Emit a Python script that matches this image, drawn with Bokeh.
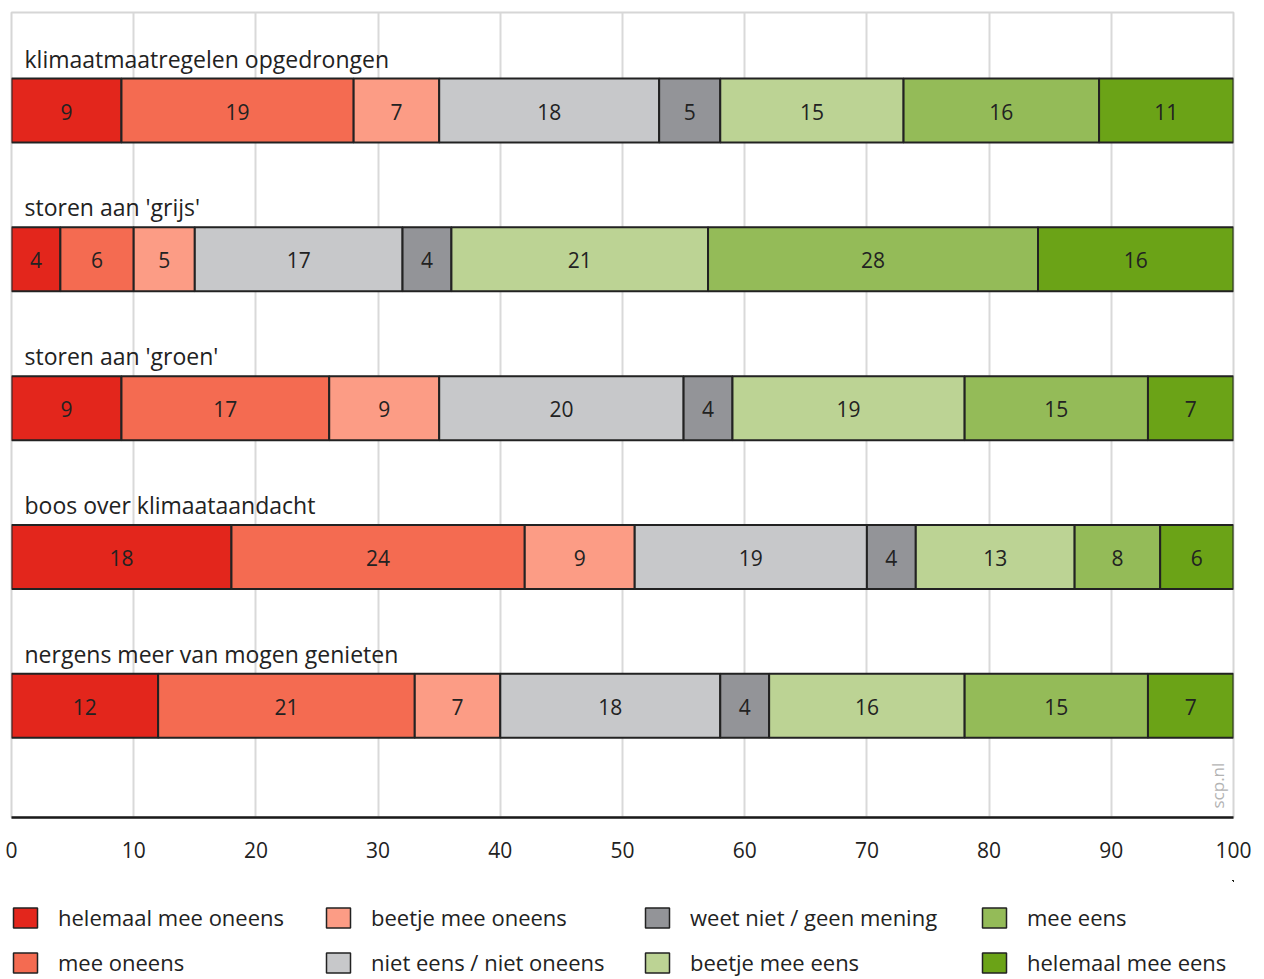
import numpy as np
from math import pi
from bokeh.plotting import figure
from bokeh.layouts import column
from bokeh.models import ColumnDataSource, Range1d, FixedTicker, Legend, LegendItem, Label
from bokeh.core.properties import value
from bokeh.embed import file_html
from bokeh.resources import INLINE

# ---------------- data ----------------
statements = [
    "klimaatmaatregelen opgedrongen",
    "storen aan 'grijs'",
    "storen aan 'groen'",
    "boos over klimaataandacht",
    "nergens meer van mogen genieten",
]
answers = [
    "helemaal mee oneens",
    "mee oneens",
    "beetje mee oneens",
    "niet eens / niet oneens",
    "weet niet / geen mening",
    "beetje mee eens",
    "mee eens",
    "helemaal mee eens",
]
colors = ["#e3261c", "#f46b51", "#fc9c85", "#c7c8ca", "#939498", "#bcd394", "#94bb58", "#6ba317"]

# bar shares (percent) as drawn, one list per answer, one value per statement
helemaal_mee_oneens = [9, 4, 9, 18, 12]
mee_oneens = [19, 6, 17, 24, 21]
beetje_mee_oneens = [7, 5, 9, 9, 7]
niet_eens_niet_oneens = [18, 17, 20, 19, 18]
weet_niet = [5, 4, 4, 4, 4]
beetje_mee_eens = [15, 21, 19, 13, 16]
mee_eens = [16, 27, 15, 7, 15]
helemaal_mee_eens = [11, 16, 7, 6, 7]

# printed (rounded) labels where they differ from the drawn share
mee_eens_label = [16, 28, 15, 8, 15]

x_ticks = [0, 10, 20, 30, 40, 50, 60, 70, 80, 90, 100]

series = [helemaal_mee_oneens, mee_oneens, beetje_mee_oneens, niet_eens_niet_oneens,
          weet_niet, beetje_mee_eens, mee_eens, helemaal_mee_eens]
labels = [helemaal_mee_oneens, mee_oneens, beetje_mee_oneens, niet_eens_niet_oneens,
          weet_niet, beetje_mee_eens, mee_eens_label, helemaal_mee_eens]

# ---------------- figure ----------------
FONT = "Open Sans"
TXT = "#222222"
BAR_LINE = "#222222"

rows = np.arange(len(statements))
y_top = -0.659
y_bottom = 4.751

p = figure(width=1264, height=880, output_backend="svg", toolbar_location=None,
           x_range=Range1d(0, 100), y_range=Range1d(y_bottom, y_top),
           y_axis_location=None,
           min_border_left=11, min_border_right=31, min_border_top=12, min_border_bottom=63)
p.background_fill_color = "white"
p.border_fill_color = "white"
p.outline_line_color = "#d6d6d6"
p.outline_line_width = 2

p.xgrid.ticker = FixedTicker(ticks=x_ticks)
p.xgrid.grid_line_color = "#d9d9d9"
p.xgrid.grid_line_width = 2
p.ygrid.visible = False

ax = p.xaxis[0]
ax.ticker = FixedTicker(ticks=x_ticks)
ax.axis_line_color = "#1a1a1a"
ax.axis_line_width = 2.5
ax.major_tick_line_color = None
ax.minor_tick_line_color = None
ax.major_label_standoff = 18
ax.major_label_text_font = FONT
ax.major_label_text_font_size = "21px"
ax.major_label_text_color = TXT

widths = np.array(series, dtype=float)
rights = np.cumsum(widths, axis=0)
lefts = rights - widths

sources = []
tx, ty, tt = [], [], []
for j, ans in enumerate(answers):
    src = ColumnDataSource(dict(y=rows, left=lefts[j], right=rights[j]))
    sources.append(src)
    p.hbar(y="y", left="left", right="right", height=0.43, source=src,
           fill_color=colors[j], line_color=BAR_LINE, line_width=2)
    tx.extend(list((lefts[j] + rights[j]) / 2))
    ty.extend(list(rows))
    tt.extend([str(v) for v in labels[j]])

p.text(x="x", y="y", text="t", source=ColumnDataSource(dict(x=tx, y=ty, t=tt)),
       text_align="center", text_baseline="middle", text_font=value(FONT),
       text_font_size="21px", text_color=TXT, y_offset=1)

cat_src = ColumnDataSource(dict(x=lefts[0], y=rows, t=statements))
p.text(x="x", y="y", text="t", source=cat_src, text_align="left", text_baseline="middle",
       text_font=value(FONT), text_font_size="23px", text_color=TXT,
       x_offset=13, y_offset=-52)

p.add_layout(Label(x=100, y=y_bottom, text="scp.nl", angle=pi / 2, x_offset=-16, y_offset=9,
                   text_align="left", text_baseline="middle", text_font=FONT,
                   text_font_size="17px", text_color="#b3b3b3"))

# ---------------- legend (separate strip below) ----------------
# the key renderers share the bar sources, but the strip's ranges lie
# away from all data so only the legend swatches are visible
lf = figure(width=1264, height=97, output_backend="svg", toolbar_location=None,
            x_range=Range1d(-2, -1), y_range=Range1d(-3, -2),
            x_axis_location=None, y_axis_location=None,
            min_border_left=11, min_border_right=31, min_border_top=0, min_border_bottom=0)
lf.outline_line_color = None
lf.xgrid.visible = False
lf.ygrid.visible = False
lf.background_fill_color = "white"
lf.border_fill_color = "white"

keys = []
for j in range(len(answers)):
    keys.append(lf.hbar(y="y", left="left", right="right", height=0.43, source=sources[j],
                        fill_color=colors[j], line_color=BAR_LINE, line_width=1.5))

col_x = [-1, 312, 631, 968]
for c in range(4):
    items = [LegendItem(label=answers[2 * c + k], renderers=[keys[2 * c + k]]) for k in range(2)]
    lg = Legend(items=items, location=(col_x[c], 0), orientation="vertical",
                border_line_color=None, background_fill_alpha=0, padding=0, margin=0,
                spacing=15, glyph_width=30, glyph_height=25, label_standoff=18,
                label_height=24, label_text_font=FONT, label_text_font_size="22px",
                label_text_color=TXT)
    lf.add_layout(lg, "center")

layout = column(p, lf, spacing=0)
open("out.html", "w").write(file_html(layout, INLINE))
